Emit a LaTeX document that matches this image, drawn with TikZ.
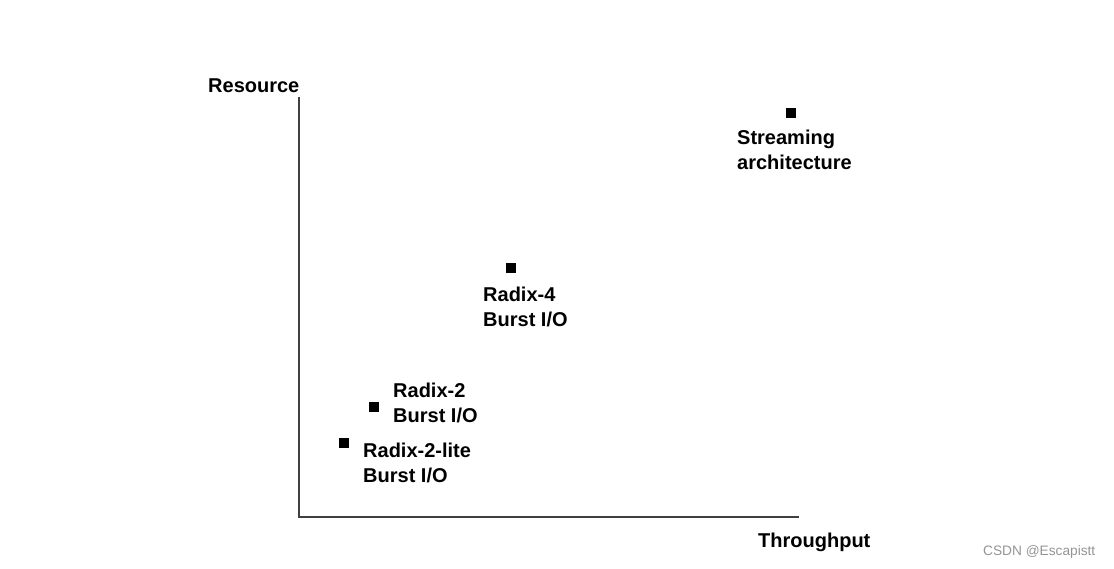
\documentclass[tikz,border=0pt]{standalone}
\usepackage{fontspec}
\setmainfont{Liberation Sans}
\usetikzlibrary{positioning}

\tikzset{
  dot/.style={fill=black, minimum size=10pt, inner sep=0pt},
  lab/.style={anchor=base west, align=left, inner sep=0pt,
    font=\fontsize{20}{25}\selectfont\bfseries},
  axisline/.style={draw=black!75, line width=1.4pt}
}

\begin{document}
\begin{tikzpicture}[x=1pt,y=-1pt]
  \useasboundingbox (0,0) rectangle (1114,568);
  % axes
  \coordinate (org) at (299,517);
  \coordinate (ytop) at (299,97);
  \coordinate (xend) at (799,517);
  \draw[axisline] (ytop) -- (org) -- (xend);
  \node[lab] (res) at (208,92) {Resource};
  \node[lab] (thr) at (758,547) {Throughput};
  % design points (name/x/y/label x/baseline of last line/text)
  \foreach \nm/\px/\py/\lx/\ly/\txt in {
      stream/791/113/737/169/{Streaming\\architecture},
      rfour/511/268/483/326/{Radix-4\\Burst I/O},
      rtwo/374/407/393/422/{Radix-2\\Burst I/O},
      rlite/344/443/363/482/{Radix-2-lite\\Burst I/O}} {
    \node[dot] (\nm) at (\px,\py) {};
    \node[lab] (\nm-lab) at (\lx,\ly) {\txt};
  }
  \node[anchor=base west, inner sep=0pt, text=black!42,
    font=\fontsize{13.7}{16}\selectfont] (mark) at (983,555) {CSDN @Escapistt};
\end{tikzpicture}
\end{document}
